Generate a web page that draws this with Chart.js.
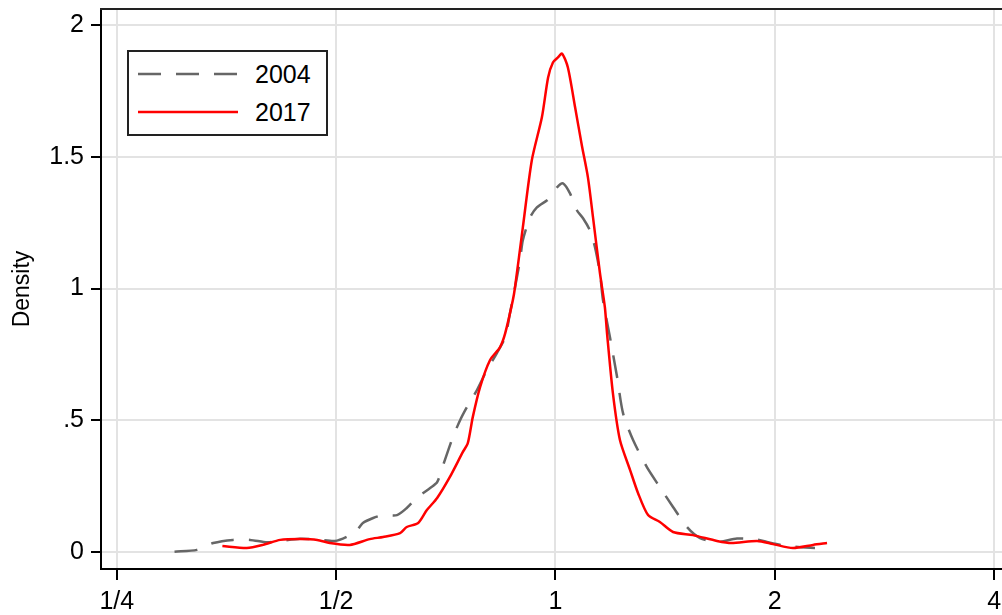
<!DOCTYPE html>
<html lang="en">
<head>
<meta charset="UTF-8">
<title>Density 2004 vs 2017</title>
<script src="https://cdn.jsdelivr.net/npm/chart.js@4"></script>
<style>
    html, body { margin: 0; padding: 0; background: #fff; }
    #wrap { position: relative; width: 1002px; height: 615px; }
    #legend {
        position: absolute; left: 127px; top: 50px; width: 197px; height: 82px;
        border: 2px solid #222; background: #fff;
        font-family: "Liberation Sans", Arial, sans-serif; font-size: 25px; color: #000;
    }
    .item { position: absolute; left: 9px; height: 30px; display: flex; align-items: center; }
    .item span { margin-left: 17px; }
</style>
</head>
<body>
<div id="wrap">
    <canvas id="densityChart" width="1002" height="615"></canvas>
    <div id="legend"></div>
</div>
<script>
// Series (x = ratio, plotted on a log scale; y = kernel density)
const years = ['2004', '2017'];

const ratio2004 = [0.300, 0.322, 0.339, 0.361, 0.381, 0.402, 0.419, 0.446, 0.471, 0.498,
    0.517, 0.534, 0.544, 0.562, 0.580, 0.606, 0.625, 0.645, 0.673, 0.688,
    0.705, 0.723, 0.740, 0.756, 0.780, 0.805, 0.831, 0.853, 0.866, 0.880,
    0.894, 0.902, 0.923, 0.943, 0.974, 0.989, 1.005, 1.024, 1.047, 1.070,
    1.091, 1.115, 1.133, 1.151, 1.162, 1.188, 1.215, 1.238, 1.278, 1.335,
    1.391, 1.450, 1.515, 1.579, 1.666, 1.775, 1.891, 1.951, 2.079, 2.271];
const density2004 = [0.001, 0.008, 0.034, 0.046, 0.046, 0.037, 0.042, 0.050, 0.048, 0.042,
    0.058, 0.083, 0.110, 0.129, 0.140, 0.140, 0.167, 0.205, 0.243, 0.265,
    0.349, 0.436, 0.501, 0.550, 0.614, 0.690, 0.755, 0.815, 0.906, 1.005,
    1.107, 1.183, 1.270, 1.308, 1.335, 1.354, 1.384, 1.399, 1.361, 1.297,
    1.267, 1.221, 1.157, 1.058, 0.956, 0.815, 0.664, 0.527, 0.425, 0.322,
    0.246, 0.171, 0.095, 0.053, 0.038, 0.051, 0.047, 0.038, 0.023, 0.015];

const ratio2017 = [0.349, 0.377, 0.397, 0.419, 0.446, 0.471, 0.490, 0.522, 0.556, 0.580,
    0.612, 0.625, 0.648, 0.666, 0.688, 0.716, 0.746, 0.758, 0.770, 0.788,
    0.813, 0.839, 0.853, 0.874, 0.880, 0.902, 0.928, 0.958, 0.977, 0.992,
    1.008, 1.021, 1.040, 1.064, 1.087, 1.108, 1.126, 1.151, 1.169, 1.177,
    1.199, 1.226, 1.266, 1.298, 1.340, 1.391, 1.450, 1.544, 1.666, 1.744,
    1.891, 1.989, 2.118, 2.257, 2.359];
const density2017 = [0.023, 0.015, 0.027, 0.046, 0.049, 0.046, 0.034, 0.027, 0.049, 0.057,
    0.072, 0.095, 0.110, 0.159, 0.205, 0.284, 0.379, 0.413, 0.512, 0.626,
    0.728, 0.777, 0.830, 0.956, 1.005, 1.232, 1.487, 1.650, 1.801, 1.858,
    1.877, 1.892, 1.839, 1.688, 1.543, 1.422, 1.270, 1.058, 0.929, 0.830,
    0.603, 0.425, 0.311, 0.224, 0.140, 0.114, 0.076, 0.064, 0.042, 0.034,
    0.042, 0.030, 0.015, 0.027, 0.034];

// Axes
const xTickVals = [0.25, 0.5, 1, 2, 4];
const xTickLabels = ['1/4', '1/2', '1', '2', '4'];
const yTickVals = [0, 0.5, 1, 1.5, 2];
const yTickLabels = ['0', '.5', '1', '1.5', '2'];

const FONT = '"Liberation Sans", Arial, sans-serif';
const GRID = '#e3e3e3';
const GRAY = '#666666';
const RED = '#ff0000';
const DASH = [23, 15];

const toPoints = (xs, ys) => xs.map((x, i) => ({ x: x, y: ys[i] }));

// top frame line of the plot region
const framePlugin = {
    id: 'frame',
    afterDraw(chart) {
        const { ctx, chartArea } = chart;
        ctx.save();
        ctx.strokeStyle = '#222';
        ctx.lineWidth = 2;
        ctx.beginPath();
        ctx.moveTo(chartArea.left - 1, chartArea.top);
        ctx.lineTo(chartArea.right, chartArea.top);
        ctx.stroke();
        ctx.restore();
    }
};

const chart = new Chart(document.getElementById('densityChart'), {
    type: 'line',
    data: {
        datasets: [
            {
                label: years[0],
                data: toPoints(ratio2004, density2004),
                borderColor: GRAY,
                borderWidth: 2.5,
                borderDash: DASH,
                order: 1
            },
            {
                label: years[1],
                data: toPoints(ratio2017, density2017),
                borderColor: RED,
                borderWidth: 2.5,
                order: 0
            }
        ]
    },
    options: {
        responsive: false,
        animation: false,
        layout: { padding: { top: 9, right: 0, bottom: 0, left: 0 } },
        elements: {
            point: { radius: 0, hoverRadius: 0 },
            line: { tension: 0.25, fill: false }
        },
        plugins: {
            legend: { display: false },
            tooltip: { enabled: false }
        },
        scales: {
            x: {
                type: 'logarithmic',
                min: 0.2378,
                max: 4.101,
                afterBuildTicks: s => { s.ticks = xTickVals.map(v => ({ value: v })); },
                afterFit: s => { s.height = 46; s.paddingLeft = 0; s.paddingRight = 0; },
                grid: { color: GRID, lineWidth: 2, tickColor: '#000', tickLength: 11, tickWidth: 2 },
                border: { color: '#000', width: 2 },
                ticks: {
                    autoSkip: false,
                    maxRotation: 0,
                    padding: 7,
                    color: '#000',
                    font: { family: FONT, size: 25 },
                    callback: (v, i) => xTickLabels[i]
                }
            },
            y: {
                type: 'linear',
                min: -0.0645,
                max: 2.061,
                afterBuildTicks: s => { s.ticks = yTickVals.map(v => ({ value: v })); },
                afterFit: s => { s.width = 101; s.paddingTop = 0; s.paddingBottom = 0; },
                grid: { color: GRID, lineWidth: 2, tickColor: '#000', tickLength: 10, tickWidth: 2 },
                border: { color: '#000', width: 2 },
                title: {
                    display: true,
                    text: 'Density',
                    color: '#000',
                    padding: { top: 9, bottom: 0 },
                    font: { family: FONT, size: 23 }
                },
                ticks: {
                    padding: 7,
                    color: '#000',
                    font: { family: FONT, size: 25 },
                    callback: (v, i) => yTickLabels[i]
                }
            }
        }
    },
    plugins: [framePlugin]
});

// legend box, built from the chart's datasets
const legendEl = document.getElementById('legend');
chart.data.datasets.forEach((ds, i) => {
    const item = document.createElement('div');
    item.className = 'item';
    item.style.top = (7 + i * 38) + 'px';
    const dash = ds.borderDash ? ` stroke-dasharray="${ds.borderDash.join(' ')}"` : '';
    item.innerHTML = `<svg width="100" height="10"><line x1="0" y1="5" x2="100" y2="5" stroke="${ds.borderColor}" stroke-width="${ds.borderWidth}"${dash}/></svg><span>${ds.label}</span>`;
    legendEl.appendChild(item);
});
</script>
</body>
</html>
